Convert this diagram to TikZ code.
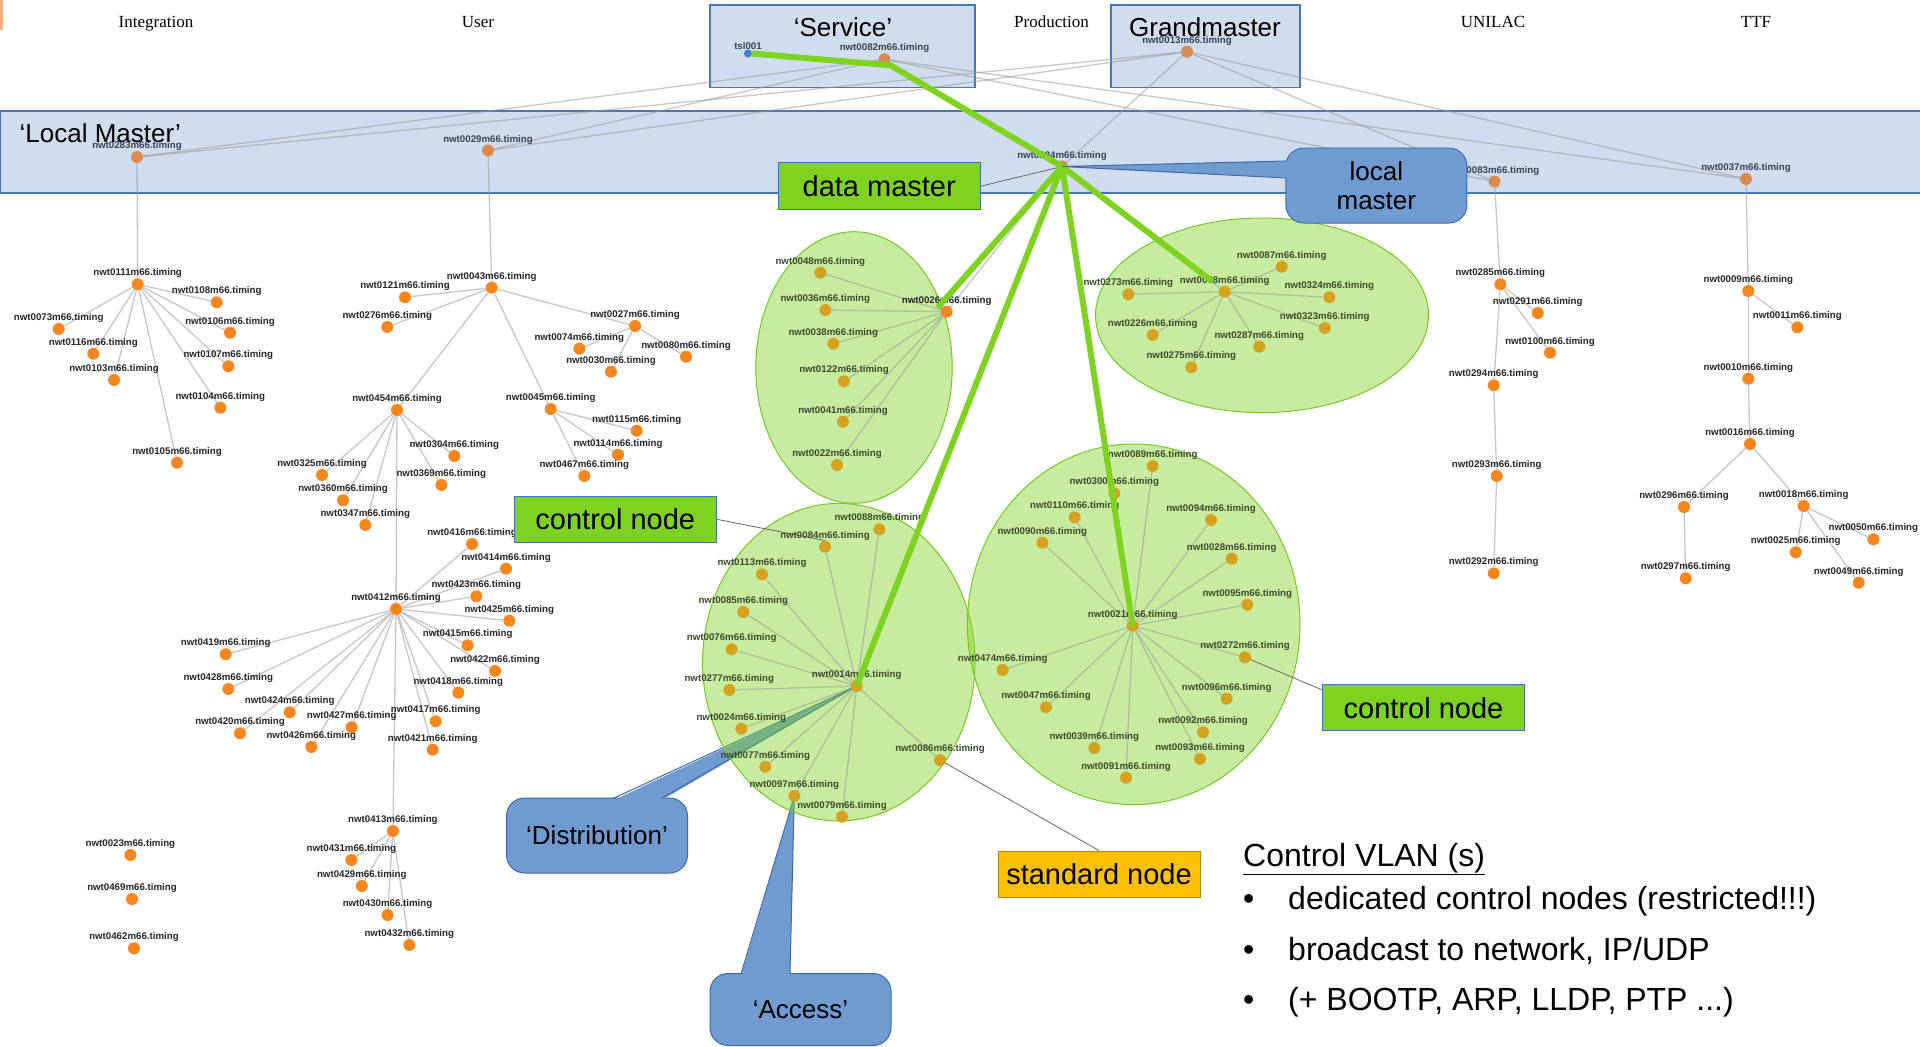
\documentclass[tikz,border=0pt]{standalone}
\usepackage{fontspec}
\setmainfont{Liberation Sans}
\newfontfamily\serifff{Liberation Serif}
\usetikzlibrary{calc}
\pgfdeclarelayer{bg}
\pgfdeclarelayer{edges}
\pgfdeclarelayer{fg}
\pgfsetlayers{bg,edges,main,fg}
\definecolor{dotor}{HTML}{F7861E}
\definecolor{labor}{HTML}{262626}
\definecolor{dotgd}{HTML}{D4A21E}
\definecolor{labgd}{HTML}{3A4A2A}
\definecolor{dotmu}{HTML}{D98A4E}
\definecolor{labmu}{HTML}{384254}
\definecolor{dotbl}{HTML}{3B82C4}
\definecolor{bandblue}{HTML}{CFDDEE}
\definecolor{bandline}{HTML}{4A76B8}
\definecolor{grn}{HTML}{7ED321}
\definecolor{grnline}{HTML}{76C626}
\definecolor{calfill}{HTML}{6F9BD0}
\definecolor{calline}{HTML}{4169AA}
\definecolor{stdfill}{HTML}{FFC000}
\definecolor{stdline}{HTML}{B08A10}
\definecolor{boxline}{HTML}{3F6FBF}
\definecolor{sliver}{HTML}{F4B183}
\tikzset{
  dot/.style={circle,inner sep=0pt,minimum size=12pt},
  lbl/.style={font=\fontsize{9.7}{11}\selectfont\bfseries,inner sep=0pt},
  lnk/.style={draw=black!40,draw opacity=0.55,line width=1.3pt},
  hl/.style={draw=grn,line width=6pt,line join=round},
  gbox/.style={draw=boxline,line width=1pt,fill=grn,minimum width=202pt,minimum height=46.5pt,inner sep=0pt,font=\fontsize{29}{32}\selectfont},
  sbox/.style={gbox,fill=stdfill,draw=stdline},
  callbox/.style={draw=calline,line width=1pt,fill=calfill,rounded corners=18pt,minimum width=181pt,minimum height=75pt,align=center,inner sep=0pt,font=\fontsize{26}{29.5}\selectfont},
  wdg/.style={fill=calfill},
  wdgline/.style={draw=calline,line width=1pt},
  ptr/.style={draw=black!60,line width=0.8pt},
  zone/.style={fill=bandblue,draw=bandline,line width=1.2pt},
  cluster/.style={fill=grn,fill opacity=0.43,draw=grnline,line width=1pt},
  big/.style={font=\fontsize{26}{30}\selectfont,inner sep=0pt},
  arealbl/.style={font=\serifff\fontsize{17}{20}\selectfont,inner sep=0pt,anchor=base},
  vlan/.style={font=\fontsize{32}{36}\selectfont,anchor=base west,inner sep=0pt},
}
\newcommand\nd[4][or]{\node[dot,fill=dot#1,label={[lbl,text=lab#1]above:nwt#4m66.timing}] (n#4) at (#2,#3) {};}
\begin{document}
\begin{tikzpicture}[x=1pt,y=-1pt]
\useasboundingbox (0,0) rectangle (1920,1047);

% ---------- band / top nodes ----------
\nd[mu]{137}{157}{0283}
\nd[mu]{488}{150.5}{0029}
\nd[mu]{1062}{166.5}{0284}
\nd[mu]{1494.5}{181.5}{0083}
\nd[mu]{1746}{179}{0037}
\nd[mu]{884.5}{59.3}{0082}
\nd[mu]{1187}{51.7}{0013}
\node[dot,minimum size=8pt,fill=dotbl,label={[lbl,text=labmu]above:tsl001}] (tsl) at (748,53.5) {};

% ---------- Integration tree ----------
\nd{137.7}{284.3}{0111}
\nd{216.7}{302.3}{0108}
\nd{58.7}{329}{0073}
\nd{230}{332.7}{0106}
\nd{93.3}{353.7}{0116}
\nd{228.3}{366.3}{0107}
\nd{114}{380}{0103}
\nd{220.3}{407.7}{0104}
\nd{177}{462.7}{0105}

% ---------- User tree ----------
\nd{491.7}{287.7}{0043}
\nd{405}{297.3}{0121}
\nd{387.3}{327}{0276}
\nd{635}{326}{0027}
\nd{579.3}{348.7}{0074}
\nd{686}{356.7}{0080}
\nd{611}{371.7}{0030}
\nd{397}{410}{0454}
\nd{550.7}{409}{0045}
\nd{636.7}{430.7}{0115}
\nd{454.3}{456}{0304}
\nd{618}{454.7}{0114}
\nd{322}{475}{0325}
\nd{584.3}{476}{0467}
\nd{441.3}{485}{0369}
\nd{343}{500.3}{0360}
\nd{365.3}{525}{0347}
\nd{472}{544}{0416}
\nd{506}{568.7}{0414}
\nd{476.3}{596.3}{0423}
\nd{396}{609}{0412}
\nd{509.3}{620.7}{0425}
\nd{467.7}{645.3}{0415}
\nd{225.7}{654.3}{0419}
\nd{495}{671}{0422}
\nd{228.3}{689}{0428}
\nd{458.3}{692.7}{0418}
\nd{289.7}{712.3}{0424}
\nd{435.7}{721.3}{0417}
\nd{351.7}{727.3}{0427}
\nd{240}{733.3}{0420}
\nd{311.3}{747}{0426}
\nd{432.7}{749.7}{0421}
\nd{392.9}{831}{0413}
\nd{351.4}{860}{0431}
\nd{361.8}{886}{0429}
\nd{387.5}{915}{0430}
\nd{409.3}{945}{0432}
\nd{130.4}{855}{0023}
\nd{132}{899}{0469}
\nd{134}{948.3}{0462}

% ---------- cluster 1 ----------
\nd[gd]{820.3}{272.7}{0048}
\nd[gd]{825.3}{310}{0036}
\nd{946.7}{311.7}{0026}
\nd[gd]{833.3}{343.7}{0038}
\nd[gd]{844}{381.3}{0122}
\nd[gd]{843}{421.7}{0041}
\nd[gd]{837}{465}{0022}

% ---------- cluster 2 ----------
\nd[gd]{1281.7}{266.7}{0087}
\nd[gd]{1224.7}{291.7}{0078}
\nd[gd]{1128.3}{294.3}{0273}
\nd[gd]{1329.3}{297.3}{0324}
\nd[gd]{1324.7}{328}{0323}
\nd[gd]{1152.7}{335}{0226}
\nd[gd]{1259.3}{346.7}{0287}
\nd[gd]{1191.3}{367.3}{0275}

% ---------- cluster 3 ----------
\nd[gd]{879.3}{529.3}{0088}
\nd[gd]{825}{546.7}{0084}
\nd[gd]{762}{574.3}{0113}
\nd[gd]{743.3}{612}{0085}
\nd[gd]{731.7}{649.3}{0076}
\nd[gd]{856.7}{686}{0014}
\nd[gd]{729.3}{690}{0277}
\nd[gd]{741.3}{728.7}{0024}
\nd[gd]{765.3}{766.7}{0077}
\nd[gd]{940}{760}{0086}
\nd[gd]{794.3}{796}{0097}
\nd[gd]{842}{816.7}{0079}

% ---------- cluster 4 ----------
\nd[gd]{1152.7}{466}{0089}
\nd[gd]{1114.3}{493.3}{0300}
\nd[gd]{1074.7}{517.3}{0110}
\nd[gd]{1211}{520}{0094}
\nd[gd]{1042.3}{542.7}{0090}
\nd[gd]{1231.7}{558.7}{0028}
\nd[gd]{1247.3}{604.7}{0095}
\nd[gd]{1132.7}{625.7}{0021}
\nd[gd]{1245}{657.3}{0272}
\nd[gd]{1002.7}{670}{0474}
\nd[gd]{1226.7}{698.7}{0096}
\nd[gd]{1046}{707.3}{0047}
\nd[gd]{1203}{732.3}{0092}
\nd[gd]{1094.3}{748}{0039}
\nd[gd]{1200}{759}{0093}
\nd[gd]{1126}{777.7}{0091}

% ---------- UNILAC ----------
\nd{1500.3}{284.3}{0285}
\nd{1537.7}{313}{0291}
\nd{1550}{352.7}{0100}
\nd{1493.7}{385.3}{0294}
\nd{1496.7}{476}{0293}
\nd{1493.7}{573.3}{0292}

% ---------- TTF ----------
\nd{1748.3}{291}{0009}
\nd{1797.3}{327.3}{0011}
\nd{1748.3}{378.7}{0010}
\nd{1750}{444}{0016}
\nd{1684}{507}{0296}
\nd{1803.7}{506}{0018}
\nd{1873.3}{539.3}{0050}
\nd{1795.7}{552.3}{0025}
\nd{1685.7}{578.3}{0297}
\nd{1858.7}{582.7}{0049}

% ---------- text / boxes nodes ----------
\node[gbox] (dm) at (879.2,186.2) {data master};
\node[gbox] (cn1) at (615.3,519.3) {control node};
\node[gbox] (cn2) at (1423.5,707.7) {control node};
\node[sbox] (sn) at (1099,874.3) {standard node};

% ---------- background ----------
\begin{pgfonlayer}{bg}
  \fill[white] (0,0) rectangle (1920,1047);
  \fill[sliver] (0,0) rectangle (3,30);
  \draw[zone] (0.6,111) rectangle (1925,193);
  \draw[zone] (710,5) rectangle (975,87.5);
  \draw[zone] (1111,5) rectangle (1300,87.5);
  \node[big,anchor=base west] (tLM) at (19.5,142.7) {‘Local Master’};
  \node[big,anchor=base] (tSv) at (843,36) {‘Service’};
  \node[big,anchor=base] (tGM) at (1205,36) {Grandmaster};
  \node[arealbl] (aInt) at (156,27.5) {Integration};
  \node[arealbl] (aUsr) at (478,27.5) {User};
  \node[arealbl] (aPrd) at (1051.5,27.5) {Production};
  \node[arealbl] (aUni) at (1493,27.5) {UNILAC};
  \node[arealbl] (aTTF) at (1756,27.5) {TTF};
  % callouts under the clusters
  \node[callbox] (dist) at (597,835.5) {‘Distribution’};
  \fill[wdg] ($(dist.north)+(16,3)$) -- (n0014.center) -- ($(dist.north)+(64,3)$) -- cycle;
  \draw[wdgline] ($(dist.north)+(16,1)$) -- (n0014.center) -- ($(dist.north)+(64,1)$);
  \node[callbox,minimum height=72pt] (acc) at (800.5,1009.5) {‘Access’};
  \fill[wdg] ($(acc.north)+(-59.5,3)$) -- (n0097.center) -- ($(acc.north)+(-10.5,3)$) -- cycle;
  \draw[wdgline] ($(acc.north)+(-59.5,1)$) -- (n0097.center) -- ($(acc.north)+(-10.5,1)$);
  % clusters
  \draw[cluster] (854,367.5) ellipse [x radius=98.2pt, y radius=135.8pt];
  \draw[cluster] (1262,315.3) ellipse [x radius=166.5pt, y radius=97.3pt];
  \draw[cluster] (838.8,662.2) ellipse [x radius=136.2pt, y radius=158.8pt];
  \draw[cluster] (1133.7,624.3) ellipse [x radius=166.3pt, y radius=180.3pt];
\end{pgfonlayer}

% ---------- edges ----------
\begin{pgfonlayer}{edges}
  \foreach \a/\b in {0082/0283,0082/0029,0082/0083,0082/0037,0082/0284,
    0013/0283,0013/0029,0013/0284,0013/0083,0013/0037,
    0283/0111,0111/0108,0111/0073,0111/0106,0111/0116,0111/0107,0111/0103,0111/0104,0111/0105,
    0029/0043,0043/0121,0043/0276,0043/0027,0043/0454,0043/0045,
    0027/0074,0027/0030,0027/0080,0045/0115,0045/0114,0045/0467,
    0454/0325,0454/0360,0454/0347,0454/0304,0454/0369,0454/0412,
    0412/0416,0412/0414,0412/0423,0412/0425,0412/0415,0412/0422,0412/0418,0412/0417,
    0412/0421,0412/0419,0412/0428,0412/0424,0412/0420,0412/0427,0412/0426,0412/0413,
    0413/0431,0413/0429,0413/0430,0413/0432,
    0284/0026,0284/0078,0284/0014,0284/0021,
    0026/0048,0026/0036,0026/0038,0026/0122,0026/0041,0026/0022,
    0078/0087,0078/0273,0078/0324,0078/0323,0078/0226,0078/0287,0078/0275,
    0014/0088,0014/0084,0014/0113,0014/0085,0014/0076,0014/0277,0014/0024,0014/0077,
    0014/0086,0014/0097,0014/0079,
    0021/0089,0021/0300,0021/0110,0021/0094,0021/0090,0021/0028,0021/0095,0021/0272,
    0021/0474,0021/0096,0021/0047,0021/0092,0021/0039,0021/0093,0021/0091,
    0083/0285,0285/0291,0285/0100,0285/0294,0294/0293,0293/0292,
    0037/0009,0009/0011,0009/0010,0010/0016,0016/0296,0016/0018,0296/0297,
    0018/0050,0018/0025,0018/0049}
    \draw[lnk] (n\a) -- (n\b);
  \draw[ptr] (dm.east) -- (n0284.center);
  \draw[ptr] (cn1.east) -- (n0084.north);
  \draw[ptr] (cn2.170) -- (n0272.center);
  \draw[ptr] (sn.north) -- (n0086.center);
\end{pgfonlayer}

% ---------- foreground ----------
\begin{pgfonlayer}{fg}
  \draw[hl] (tsl.east) -- ($(n0082)+(6,6)$) -- (n0284.center);
  \draw[hl] (n0284.center) -- ($(n0026)+(-9,-4)$);
  \draw[hl] (n0284.center) -- ($(n0078)+(-12,-10)$);
  \draw[hl] (n0284.center) -- (n0014.center);
  \draw[hl] (n0284.center) -- (n0021.center);
  \node[callbox] (lm) at (1376.35,185.5) {local\\master};
  \fill[wdg] ($(lm.west)+(3,-24.5)$) -- (n0284.center) -- ($(lm.west)+(3,-7.5)$) -- cycle;
  \draw[wdgline] ($(lm.west)+(1,-24.5)$) -- (n0284.center) -- ($(lm.west)+(1,-7.5)$);
  \node[gbox] at (dm) {data master};
  \node[gbox] at (cn1) {control node};
  \node[gbox] at (cn2) {control node};
  \node[sbox] at (sn) {standard node};
  \node[vlan] (vh) at (1243,866) {\underline{Control VLAN (s)}};
  \node[vlan] (b1) at (1243,909) {•};
  \node[vlan] (t1) at (1288,909) {dedicated control nodes (restricted!!!)};
  \node[vlan] (b2) at (1243,960) {•};
  \node[vlan] (t2) at (1288,960) {broadcast to network, IP/UDP};
  \node[vlan] (b3) at (1243,1010) {•};
  \node[vlan] (t3) at (1288,1010) {(+ BOOTP, ARP, LLDP, PTP ...)};
\end{pgfonlayer}
\end{tikzpicture}
\end{document}
